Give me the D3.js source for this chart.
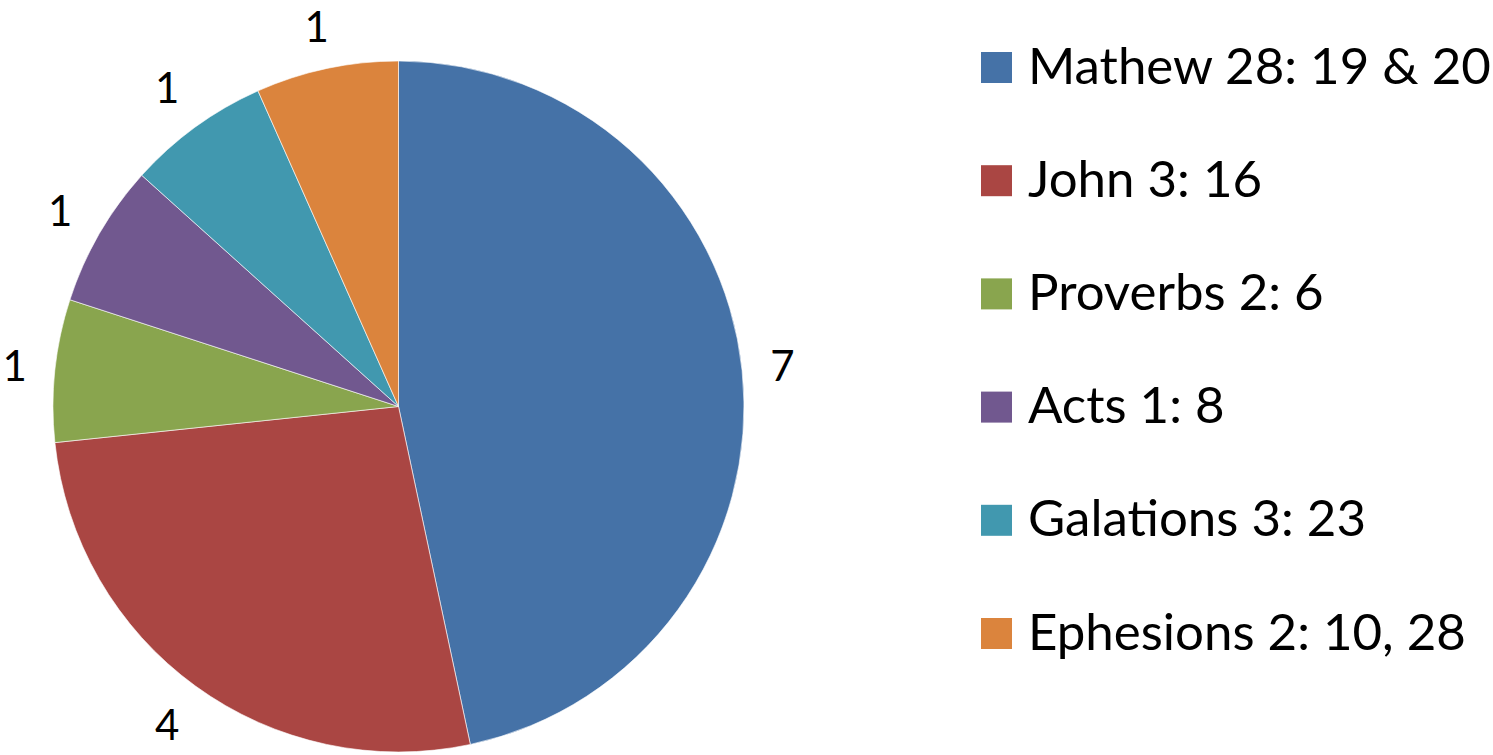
<!DOCTYPE html>
<html>
<head>
<meta charset="utf-8">
<script src="https://cdn.jsdelivr.net/npm/d3@7"></script>
<style>
  body { margin: 0; background: #fff; }
  text { font-family: Lato, "Open Sans", sans-serif; fill: #000; }
</style>
</head>
<body>
<div id="chart"></div>
<script>
// verses and how often each was picked
var labels = ["Mathew 28: 19 & 20", "John 3: 16", "Proverbs 2: 6", "Acts 1: 8", "Galations 3: 23", "Ephesions 2: 10, 28"];
var counts = [7, 4, 1, 1, 1, 1];
var colors = ["#4572A7", "#AA4643", "#89A54E", "#71588F", "#4198AF", "#DB843D"];

var width = 1493, height = 755,
    cx = 398.5, cy = 406.5, radius = 345.5;

var svg = d3.select("#chart").append("svg")
    .attr("width", width)
    .attr("height", height);

var data = labels.map(function (d, i) { return {name: d, value: counts[i], color: colors[i]}; });

var pie = d3.pie().sort(null).value(function (d) { return d.value; });
var arc = d3.arc().innerRadius(0).outerRadius(radius);

var g = svg.append("g")
    .attr("transform", "translate(" + cx + "," + cy + ")");

var slices = pie(data);

g.selectAll("path")
    .data(slices)
    .enter().append("path")
    .attr("d", arc)
    .attr("fill", function (d) { return d.data.color; })
    .attr("stroke", "#fff")
    .attr("stroke-width", 0.6);

// data labels, outside end (kept inside the svg)
var fs = 42, halfW = 6, halfH = 14, gap = 33;
function labelR(a) {
    return radius + gap + halfW * Math.abs(Math.sin(a)) + halfH * Math.abs(Math.cos(a));
}
g.selectAll(".lbl")
    .data(slices)
    .enter().append("text")
    .attr("class", "lbl")
    .text(function (d) { return d.data.value; })
    .attr("font-size", fs)
    .attr("text-anchor", "middle")
    .attr("x", function (d) {
        var a = (d.startAngle + d.endAngle) / 2;
        return labelR(a) * Math.sin(a);
    })
    .attr("y", function (d) {
        var a = (d.startAngle + d.endAngle) / 2;
        var base = -labelR(a) * Math.cos(a) + 0.36 * fs;
        return Math.max(base, -cy + fs);
    });

// legend
var ly = d3.scalePoint().domain(labels).range([67.5, 633.5]);

var legend = svg.append("g").selectAll("g")
    .data(data)
    .enter().append("g")
    .attr("transform", function (d) { return "translate(981," + ly(d.name) + ")"; });

legend.append("rect")
    .attr("x", 0)
    .attr("y", -15.5)
    .attr("width", 31)
    .attr("height", 31)
    .attr("fill", function (d) { return d.color; });

legend.append("text")
    .attr("x", 47)
    .attr("y", 16)
    .attr("font-size", 51)
    .text(function (d) { return d.name; });
</script>
</body>
</html>
